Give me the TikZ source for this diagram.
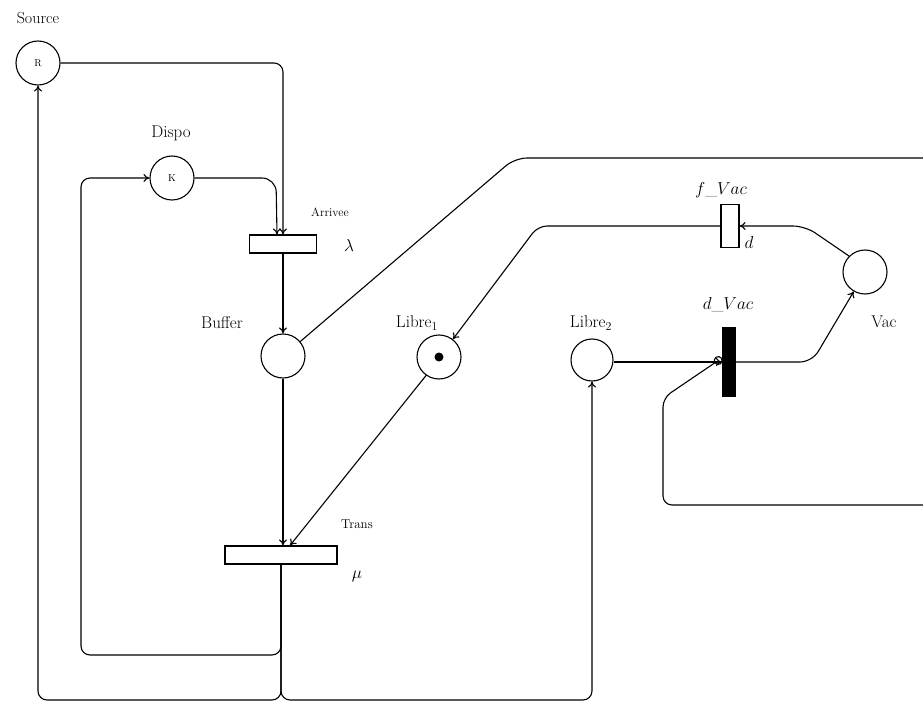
\documentclass[tikz,border=0pt]{standalone}
\usetikzlibrary{arrows.meta}
\begin{document}
\begin{tikzpicture}[x=1pt,y=-1pt,
  line width=1.1pt,
  place/.style={draw,circle,inner sep=0pt,minimum size=44pt},
  trans/.style={draw,rectangle,inner sep=0pt},
  arc/.style={-{To[length=6pt,width=8pt]},rounded corners=9pt},
  lab/.style={font=\fontsize{17}{20}\selectfont,inner sep=0pt},
  smalllab/.style={font=\fontsize{12}{14}\selectfont,inner sep=0pt},
  inhib/.style={-{Circle[open,length=9pt,width=9pt]},rounded corners=9pt}
]
\useasboundingbox (0,0) rectangle (923,703);
% places
\node[place] (R) at (38,63) {\fontsize{10}{12}\selectfont R};
\node[place] (K) at (172,178) {\fontsize{10}{12}\selectfont K};
\node[place] (Buffer) at (283,356) {};
\node[place] (Libre1) at (439,357) {};
\fill (Libre1.center) circle (4.5pt);
\node[place,minimum size=42pt] (Libre2) at (592,360) {};
\node[place] (Vac) at (865,272) {};
% transitions
\node[trans,minimum width=67pt,minimum height=18pt] (Arrivee) at (283,244) {};
\node[trans,minimum width=112pt,minimum height=18pt] (Trans) at (281,555) {};
\node[trans,minimum width=18pt,minimum height=43pt] (fVac) at (730,226) {};
\node[trans,fill=black,minimum width=13pt,minimum height=69pt] (dVac) at (729,362) {};
% labels
\node[lab,font=\fontsize{16}{18}\selectfont] (lSource) at (38,18) {Source};
\node[lab] (lDispo) at (171,133) {Dispo};
\node[smalllab] (lArrivee) at (330,212) {Arrivee};
\node[lab] (llambda) at (349,246) {$\lambda$};
\node[lab] (lBuffer) at (222,323) {Buffer};
\node[lab] (lLibre1) at (417,323) {Libre$_1$};
\node[lab] (lLibre2) at (591,323) {Libre$_2$};
\node[smalllab,font=\fontsize{13}{15}\selectfont] (lTrans) at (357,524) {Trans};
\node[lab] (lmu) at (357,576) {$\mu$};
\node[lab] (lfVac) at (721,190) {$f\_Vac$};
\node[lab] (ld) at (749,243) {$d$};
\node[lab] (ldVac) at (728,305) {$d\_Vac$};
\node[lab] (lVac) at (884,322) {Vac};
% free ends
\coordinate (eTop) at (923,158);
\coordinate (eLoop) at (923,505);
\coordinate (jInner) at (281,655);
\coordinate (jOuter) at (281,700);
% arcs
\draw[arc] (R.east) -- (Arrivee.north |- R.east) -- (Arrivee.north);
\draw[arc,rounded corners=14pt] (K.east) -- (276,178) -- ([xshift=-6pt]Arrivee.north);
\draw[arc] (Arrivee.south) -- (Buffer.north);
\draw[rounded corners=12pt] (Buffer.40) -- (515,158) -- (eTop);
\draw[arc] (fVac.west) -- (538,226) -- (Libre1.52);
\draw[arc,rounded corners=12pt] (Vac.135) -- (805,226) -- (fVac.east);
\draw[arc] (Libre2.east |- dVac.west) -- (dVac.west);
\draw[arc,rounded corners=12pt] (dVac.east) -- (812,362) -- (Vac.240);
\draw[inhib] (eLoop) -- (663,505) -- (663,398) -- ([yshift=4pt]dVac.west);
\draw[arc] (Buffer.south) -- (Buffer.south |- Trans.north);
\draw[arc] (Libre1.235) -- ([xshift=9pt]Trans.north);
\draw[arc] (Trans.south) -- (jInner) -- (81,655) -- (81,178) -- (K.west);
\draw[arc] (Trans.south) -- (jOuter) -- (R.south |- jOuter) -- (R.south);
\draw[arc] (Trans.south) -- (jOuter) -- (Libre2.south |- jOuter) -- (Libre2.south);
\end{tikzpicture}
\end{document}
